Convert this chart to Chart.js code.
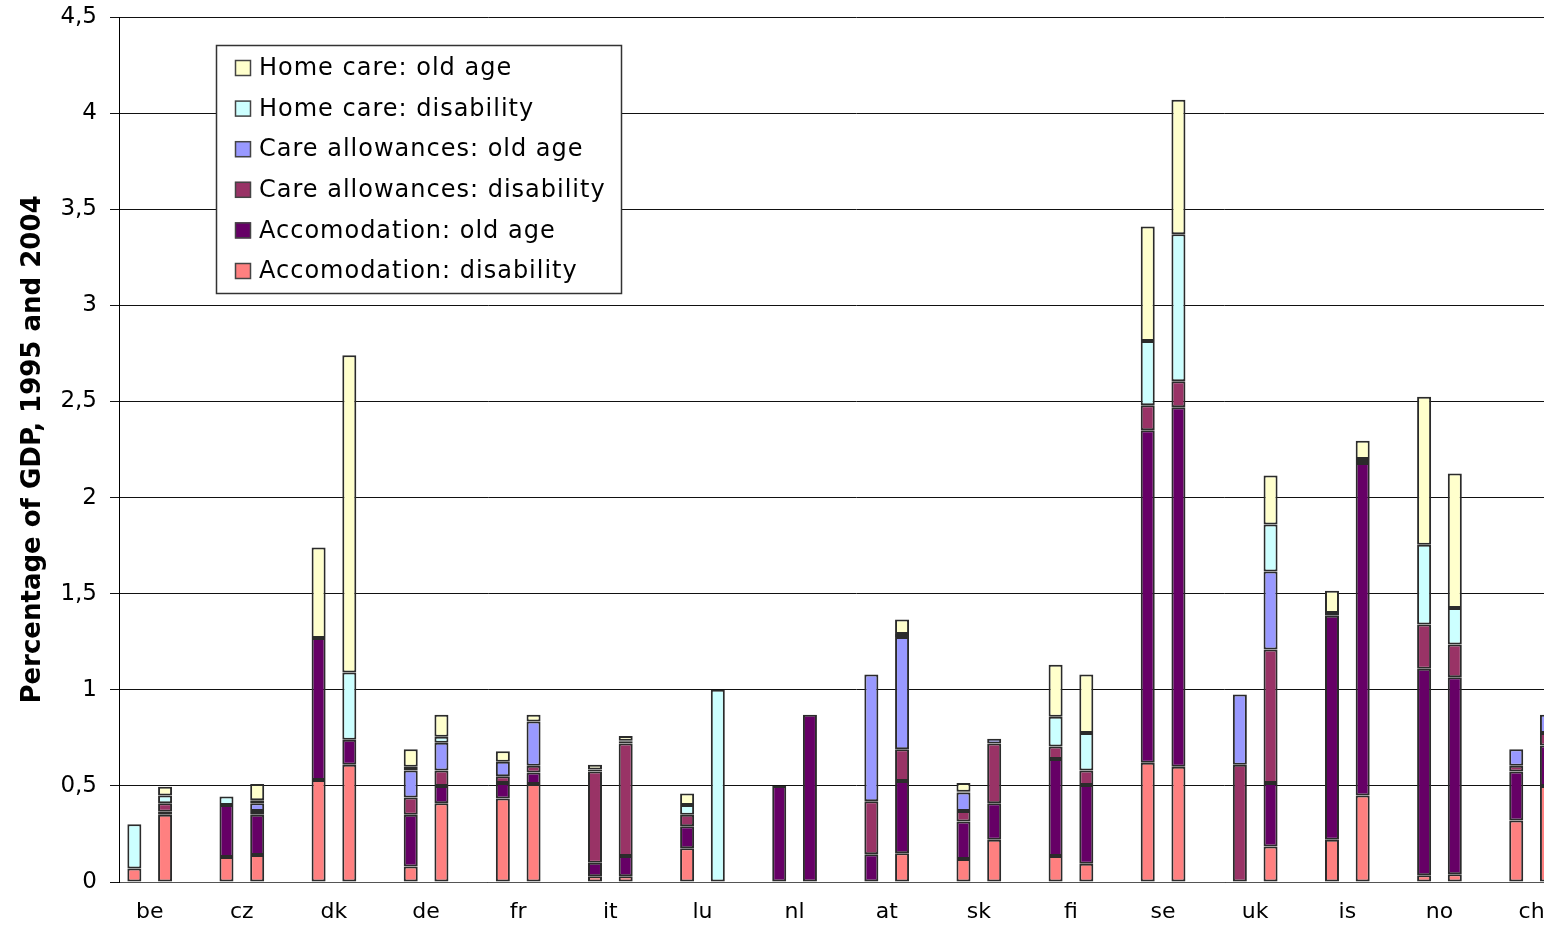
<!DOCTYPE html>
<html>
<head>
<meta charset="utf-8">
<title>Long-term care expenditure</title>
<script src="https://cdn.jsdelivr.net/npm/chart.js@4.4.1/dist/chart.umd.min.js"></script>
<style>
  html, body { margin: 0; padding: 0; background: #ffffff; overflow: hidden; }
  #wrap { width: 1600px; height: 925px; }
</style>
</head>
<body>
<div id="wrap"><canvas id="chart" width="1600" height="925"></canvas></div>
<script>
// Countries on the category axis; each has a 1995 bar and a 2004 bar.
const countries = ['be', 'cz', 'dk', 'de', 'fr', 'it', 'lu', 'nl', 'at', 'sk', 'fi', 'se', 'uk', 'is', 'no', 'ch'];

// Series, bottom of the stack first.
const seriesNames = [
  'Accomodation: disability',
  'Accomodation: old age',
  'Care allowances: disability',
  'Care allowances: old age',
  'Home care: disability',
  'Home care: old age'
];
const seriesColors = ['#FF8080', '#660066', '#993366', '#9999FF', '#CCFFFF', '#FFFFCC'];

// Percentage of GDP, 1995
const accDisability1995  = [0.07, 0.13, 0.53, 0.08, 0.435, 0.03, 0.175, 0,    0,     0.12,  0.135, 0.62,  0,     0.22,  0.035, 0.32];
const accOldAge1995      = [0,    0.27, 0.74, 0.27, 0.08,  0.07, 0.115, 0.50, 0.145, 0.195, 0.505, 1.73,  0,     1.165, 1.075, 0.255];
const allowDisability1995= [0,    0,    0,    0.09, 0.035, 0.475,0.06,  0,    0.275, 0.055, 0.065, 0.13,  0.61,  0,     0.23,  0.03];
const allowOldAge1995    = [0,    0,    0,    0.14, 0.075, 0.01, 0,     0,    0.66,  0.095, 0,     0,     0.365, 0,     0,     0.085];
const homeDisability1995 = [0.23, 0.045,0,    0.02, 0,     0,    0.05,  0,    0,     0.005, 0.155, 0.335, 0,     0.015, 0.415, 0];
const homeOldAge1995     = [0,    0,    0.47, 0.09, 0.055, 0.025,0.06,  0,    0,     0.045, 0.27,  0.595, 0,     0.115, 0.77,  0];

// Percentage of GDP, 2004
const accDisability2004  = [0.35, 0.14, 0.61, 0.41, 0.51,  0.03, 0,     0,    0.15,  0.22,  0.095, 0.60,  0.185, 0.45,  0.04,  0.50];
const accOldAge2004      = [0.015,0.21, 0.13, 0.09, 0.06,  0.105,0,     0.87, 0.375, 0.19,  0.41,  1.87,  0.33,  1.73,  1.025, 0.21];
const allowDisability2004= [0.045,0.02, 0,    0.08, 0.035, 0.585,0,     0,    0.165, 0.31,  0.075, 0.135, 0.695, 0,     0.17,  0.065];
const allowOldAge2004    = [0,    0.04, 0,    0.145,0.23,  0.01, 0,     0,    0.585, 0.025, 0,     0,     0.405, 0,     0,     0.095];
const homeDisability2004 = [0.04, 0.015,0.35, 0.03, 0,     0.005,1.0,   0,    0.015, 0,     0.195, 0.765, 0.245, 0.02,  0.19,  0];
const homeOldAge2004     = [0.045,0.085,1.65, 0.115,0.035, 0.025,0,     0,    0.075, 0,     0.305, 0.70,  0.255, 0.095, 0.70,  0];

// Value axis ticks
const yMin = 0, yMax = 4.5, yStep = 0.5;

const values1995 = [accDisability1995, accOldAge1995, allowDisability1995, allowOldAge1995, homeDisability1995, homeOldAge1995];
const values2004 = [accDisability2004, accOldAge2004, allowDisability2004, allowOldAge2004, homeDisability2004, homeOldAge2004];

const datasets = [];
seriesNames.forEach((name, i) => {
  datasets.push({ label: name, data: values1995[i], stack: '1995', backgroundColor: seriesColors[i] });
  datasets.push({ label: name, data: values2004[i], stack: '2004', backgroundColor: seriesColors[i] });
});
// Empty third slot keeps a blank space between country groups.
datasets.push({ label: '', data: countries.map(() => null), stack: 'spacer', backgroundColor: 'rgba(0,0,0,0)' });

// Boxed legend inside the plot, top entry = top of the stack.
const boxedLegend = {
  id: 'boxedLegend',
  afterDatasetsDraw(chart) {
    const ctx = chart.ctx;
    const box = { x: 216.5, y: 45.5, w: 405, h: 248 };
    ctx.save();
    ctx.fillStyle = '#ffffff';
    ctx.fillRect(box.x, box.y, box.w, box.h);
    ctx.strokeStyle = '#333333';
    ctx.lineWidth = 1.5;
    ctx.strokeRect(box.x, box.y, box.w, box.h);
    const order = seriesNames.map((n, i) => i).reverse();
    ctx.font = '24px "DejaVu Sans"';
    ctx.textBaseline = 'middle';
    ctx.textAlign = 'left';
    if ('letterSpacing' in ctx) ctx.letterSpacing = '1px';
    order.forEach((idx, row) => {
      const cy = 68 + row * 40.6;
      ctx.fillStyle = seriesColors[idx];
      ctx.fillRect(235, cy - 8, 16, 16);
      ctx.strokeStyle = '#444444';
      ctx.lineWidth = 1.5;
      ctx.strokeRect(235.5, cy - 7.5, 15, 15);
      ctx.fillStyle = '#000000';
      ctx.fillText(seriesNames[idx], 259, cy + 1);
    });
    ctx.restore();
  }
};

new Chart(document.getElementById('chart'), {
  type: 'bar',
  data: { labels: countries, datasets: datasets },
  plugins: [boxedLegend],
  options: {
    responsive: false,
    animation: false,
    layout: { padding: { left: 0, right: 7, top: 17, bottom: 0 } },
    datasets: {
      bar: {
        categoryPercentage: 1.0,
        barPercentage: 0.456,
        borderColor: '#2b2b2b',
        borderWidth: 2,
        borderSkipped: false
      }
    },
    plugins: {
      legend: { display: false },
      tooltip: { enabled: false }
    },
    scales: {
      x: {
        stacked: true,
        grid: { display: false, drawTicks: false },
        border: { display: true, color: '#555555', width: 1 },
        ticks: {
          font: { family: 'DejaVu Sans', size: 22 },
          color: '#000000',
          padding: 17,
          labelOffset: -15.35,
          maxRotation: 0,
          autoSkip: false
        },
        afterFit(scale) { scale.height = 43; }
      },
      y: {
        stacked: true,
        min: yMin,
        max: yMax,
        ticks: {
          stepSize: yStep,
          callback: (v) => String(v).replace('.', ','),
          font: { family: 'DejaVu Sans', size: 23 },
          color: '#000000',
          padding: 13
        },
        grid: { color: '#111111', lineWidth: 1, tickLength: 9, drawTicks: true },
        border: { display: true, color: '#000000', width: 1 },
        title: {
          display: true,
          text: 'Percentage of GDP, 1995 and 2004',
          font: { family: 'DejaVu Sans', size: 26, weight: 'bold' },
          color: '#000000',
          padding: { top: 18, bottom: 0 }
        },
        afterFit(scale) {
          scale.width = 119;
          scale.paddingTop = 0;
          scale.paddingBottom = 0;
        }
      }
    }
  }
});
</script>
</body>
</html>
